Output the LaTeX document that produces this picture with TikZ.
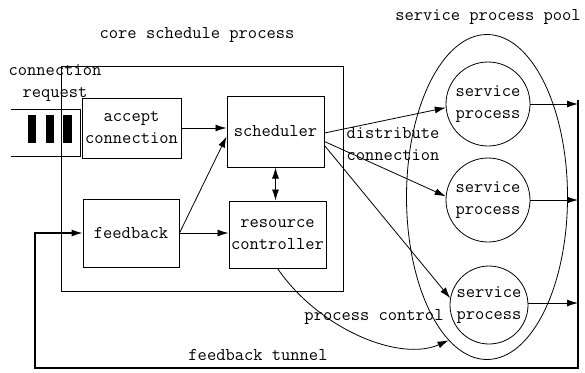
\documentclass[tikz,border=0pt]{standalone}
\usepackage{tikz}
\usetikzlibrary{arrows.meta,shapes.geometric}
\tikzset{
  box/.style={draw,line width=1pt,rectangle,inner sep=0pt},
  proc/.style={draw,line width=0.8pt,circle,inner sep=0pt,align=center},
  arr/.style={-{Latex[length=11pt,width=7pt]}},
  label/.style={inner sep=0pt,align=center}
}

\begin{document}
\begin{tikzpicture}[x=1pt,y=-1pt,line width=0.8pt,
    font=\fontsize{18}{22}\selectfont\ttfamily]
    \useasboundingbox (0,0) rectangle (585,372);
    % core schedule process
    \node[box,minimum width=282pt,minimum height=225pt] (core) at (202,178.5) {};
    \node[label] (coretxt) at (197,35) {core schedule process};
    \node[box,minimum width=99pt,minimum height=60pt,align=center] (accept) at (131.5,128) {accept\\connection};
    \node[box,minimum width=97pt,minimum height=71pt] (sched) at (275.5,131.5) {scheduler};
    \node[box,minimum width=96pt,minimum height=68pt] (feedback) at (131,233) {feedback};
    \node[box,minimum width=97pt,minimum height=67pt,align=center] (resource) at (277.5,234.5) {resource\\controller};
    % connection request queue
    \draw (11,109) -- (80,109) -- (80,156) -- (11,156);
      \fill (28,115) rectangle (36,143);
      \fill (46,115) rectangle (54,143);
      \fill (63,115) rectangle (72,143);
    \node[label] (reqtxt) at (55,83) {connection\\request};
    % service process pool
    \node[draw,ellipse,minimum width=161pt,minimum height=325pt,inner sep=0pt] (pool) at (487,197) {};
    \node[label] (pooltxt) at (488,17) {service process pool};
    \node[proc,minimum size=84pt] (sp1) at (488,104) {service\\process};
    \node[proc,minimum size=84pt] (sp2) at (488,200) {service\\process};
    \node[proc,minimum size=78pt] (sp3) at (489,305) {service\\process};
    % inside core
    \draw[arr] (accept.east) -- (sched.west |- accept.east);
    \draw[arr] (feedback.east) -- ([yshift=-5pt]sched.west);
    \draw[arr] (feedback.east) -- (resource.west |- feedback.east);
    \draw[{Latex[length=11pt,width=7pt]}-{Latex[length=11pt,width=7pt]}] (sched.south) -- (sched.south |- resource.north);
    % distribute connection
    \draw[arr] ([yshift=-1.5pt]sched.east) -- (sp1.185);
    \draw[arr] ([yshift=-10pt]sched.east) -- (sp2.175);
    \draw[arr] ([yshift=-14pt]sched.east) -- (sp3.170);
    \node[label,align=left] (disttxt) at (393,144) {distribute\\connection};
    % feedback tunnel
    \coordinate (tunTop) at (578,100);
    \coordinate (tunR) at (578,368);
    \coordinate (tunL) at (35,368);
    \draw[arr] (sp1.east) -- (sp1.east -| tunTop);
    \draw[arr] (sp2.east) -- (sp2.east -| tunTop);
    \draw[arr] ([yshift=2pt]sp3.east) -- ([yshift=2pt]sp3.east -| tunTop);
    \draw[arr,line width=1.2pt] (tunTop) -- (tunR) -- (tunL) |- (feedback.west);
    \node[label] (tuntxt) at (258,355) {feedback tunnel};
    % process control
    \draw[arr] (resource.south) .. controls (320,330) and (400,362) .. (pool.255);
    \node[label] (ctltxt) at (374,317) {process control};
\end{tikzpicture}
\end{document}
